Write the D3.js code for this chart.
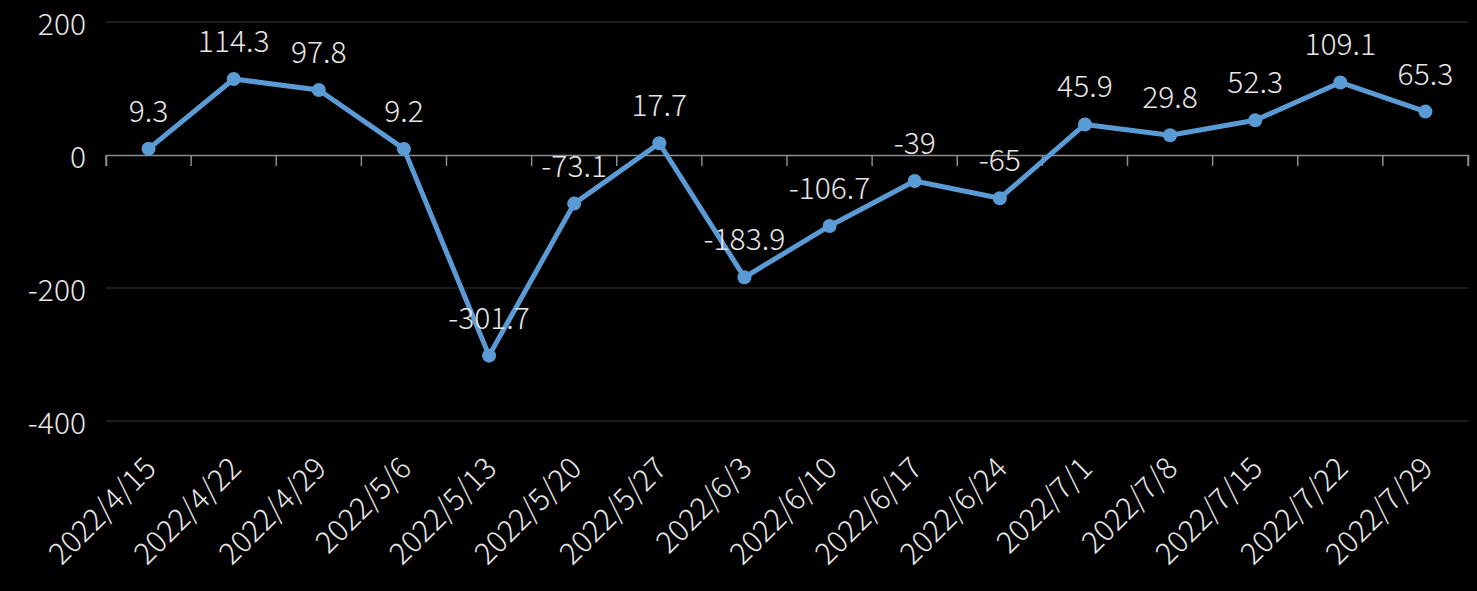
<!DOCTYPE html>
<html><head><meta charset="utf-8">
<script src="https://cdn.jsdelivr.net/npm/d3@7"></script>
<style>
html,body{margin:0;padding:0;background:#000;}
svg{display:block;}
</style>
</head><body>
<svg id="chart" width="1477" height="591"></svg>
<script>
const categories = ["2022/4/15","2022/4/22","2022/4/29","2022/5/6","2022/5/13","2022/5/20","2022/5/27","2022/6/3","2022/6/10","2022/6/17","2022/6/24","2022/7/1","2022/7/8","2022/7/15","2022/7/22","2022/7/29"];
const values = [9.3,114.3,97.8,9.2,-301.7,-73.1,17.7,-183.9,-106.7,-39,-65,45.9,29.8,52.3,109.1,65.3];
const yTicks = [200,0,-200,-400];

const FONT = "'Noto Sans CJK TC','Noto Sans',sans-serif";
const WEIGHT = 300;
const TXT = "#e6e6e6";
const svg = d3.select("#chart");
const L = 106, R = 1468, T = 22, B = 421;

const x = d3.scaleBand().domain(categories).range([L, R]);
const y = d3.scaleLinear().domain([-400, 200]).range([B, T]);

// gridlines (non-zero)
svg.append("g").selectAll("line").data(yTicks.filter(d => d !== 0)).join("line")
  .attr("x1", L).attr("x2", R)
  .attr("y1", d => y(d)).attr("y2", d => y(d))
  .attr("stroke", "#262626").attr("stroke-width", 1.5);

// y tick labels
svg.append("g").selectAll("text").data(yTicks).join("text")
  .attr("x", 86).attr("y", d => y(d))
  .attr("text-anchor", "end").attr("dominant-baseline", "central")
  .attr("fill", TXT).attr("font-family", FONT).attr("font-weight", WEIGHT).attr("font-size", 30)
  .text(d => d);

// category axis at zero
const xAxis = d3.axisBottom(x).tickSize(11).tickFormat("");
const gx = svg.append("g").attr("transform", `translate(0,${y(0)})`).call(xAxis);
gx.select(".domain").attr("stroke", "#8c8c8c").attr("stroke-width", 1.5);
gx.selectAll(".tick").remove();
const bounds = categories.map(c => x(c)).concat([x(categories[categories.length-1]) + x.bandwidth()]);
gx.selectAll("line.bt").data(bounds).join("line").attr("class","bt")
  .attr("x1", d => d).attr("x2", d => d).attr("y1", 0).attr("y2", 11)
  .attr("stroke", "#8c8c8c").attr("stroke-width", 1.5);

// category labels
svg.append("g").selectAll("text").data(categories).join("text")
  .attr("transform", d => `translate(${x(d) + x.bandwidth()/2},${461}) rotate(-45)`)
  .attr("text-anchor", "end").attr("dominant-baseline", "central")
  .attr("fill", TXT).attr("font-family", FONT).attr("font-weight", WEIGHT).attr("font-size", 30)
  .text(d => d);

const cx = (d, i) => x(categories[i]) + x.bandwidth()/2;
const line = d3.line().x((d, i) => cx(d, i)).y(d => y(d));
svg.append("path").datum(values).attr("d", line)
  .attr("fill", "none").attr("stroke", "#5b9bd5").attr("stroke-width", 5)
  .attr("stroke-linejoin", "round");

svg.append("g").selectAll("circle").data(values).join("circle")
  .attr("cx", cx).attr("cy", d => y(d)).attr("r", 7)
  .attr("fill", "#5b9bd5");

svg.append("g").selectAll("text").data(values).join("text")
  .attr("x", cx).attr("y", d => y(d) - 27)
  .attr("text-anchor", "middle")
  .attr("fill", TXT).attr("font-family", FONT).attr("font-weight", WEIGHT).attr("font-size", 30)
  .text(d => d);
</script>
</body></html>
